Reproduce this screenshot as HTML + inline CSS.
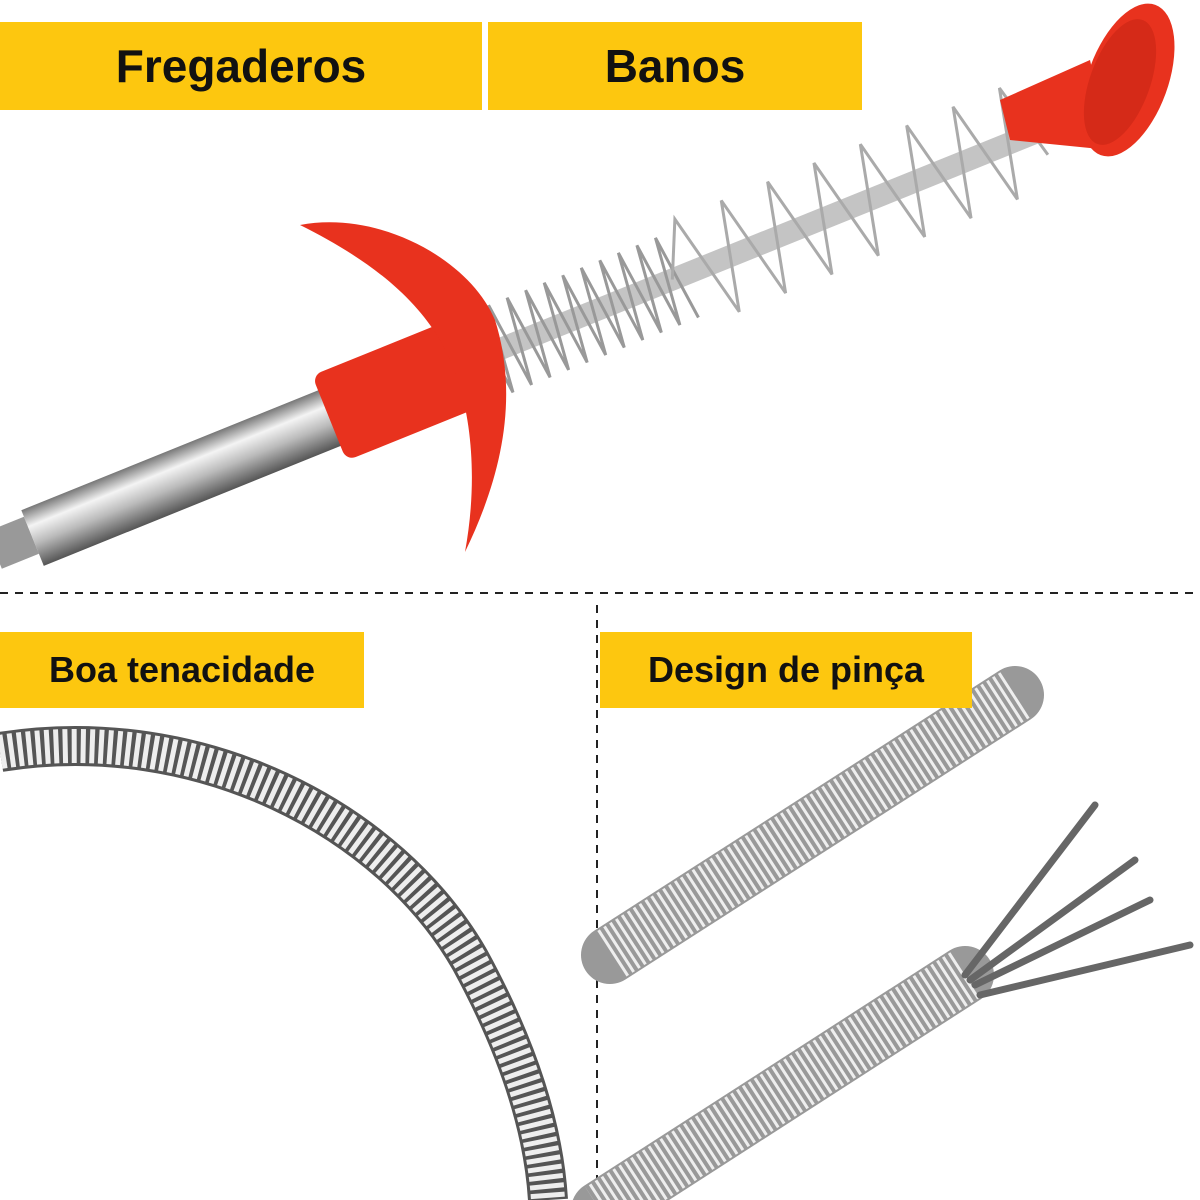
<!DOCTYPE html>
<html><head><meta charset="utf-8"><style>
html,body{margin:0;padding:0;background:#fff;}
.wrap{position:relative;width:1200px;height:1200px;overflow:hidden;background:#fff;font-family:"Liberation Sans",sans-serif;}
.lab{position:absolute;background:#FDC70F;color:#111;font-weight:bold;display:flex;align-items:center;justify-content:center;}
</style></head><body><div class="wrap">
<svg width="1200" height="1200" style="position:absolute;left:0;top:0">
<defs>
<linearGradient id="metal" x1="0" y1="0" x2="0" y2="1">
<stop offset="0" stop-color="#777"/><stop offset="0.3" stop-color="#f4f4f4"/><stop offset="0.6" stop-color="#bbb"/><stop offset="1" stop-color="#555"/></linearGradient>
</defs>
<line x1="0" y1="593" x2="1200" y2="593" stroke="#222" stroke-width="2" stroke-dasharray="8,7"/>
<line x1="597" y1="605" x2="597" y2="1200" stroke="#222" stroke-width="2" stroke-dasharray="8,7"/>
<g transform="rotate(-22 330 420)">
<rect x="-30" y="395" width="40" height="40" fill="#999"/>
<rect x="10" y="388" width="330" height="60" fill="url(#metal)"/>
<rect x="330" y="372" width="150" height="92" rx="10" fill="#E8321E"/>
<line x1="480" y1="418" x2="1180" y2="418" stroke="#c4c4c4" stroke-width="22"/>
<path d="M490,418 l10,-45 l10,90 l10,-90 l10,90 l10,-90 l10,90 l10,-90 l10,90 l10,-90 l10,90 l10,-90 l10,90 l10,-90 l10,90 l10,-90 l10,90 l10,-90 l10,90 l10,-90 l10,90 l10,-90 l10,90" fill="none" stroke="#999" stroke-width="3"/>
<path d="M700,418 l25,-55 l25,110 l25,-110 l25,110 l25,-110 l25,110 l25,-110 l25,110 l25,-110 l25,110 l25,-110 l25,110 l25,-110 l25,110 l25,-110 l20,80" fill="none" stroke="#aaa" stroke-width="3"/>
</g>
<path d="M300,225 C380,210 470,260 495,320 C520,400 500,480 465,552 C480,470 470,390 440,340 C410,290 360,255 300,225Z" fill="#E8321E"/>
<path d="M1000,100 L1090,60 L1110,150 L1010,140 Z" fill="#E8321E"/>
<ellipse cx="1128" cy="80" rx="40" ry="80" transform="rotate(20 1128 80)" fill="#E8321E"/>
<ellipse cx="1120" cy="82" rx="30" ry="66" transform="rotate(20 1120 82)" fill="#d52a18"/>
<path d="M0,752 C200,720 390,820 470,960 C530,1070 545,1150 548,1200" fill="none" stroke="#555" stroke-width="40"/>
<path d="M0,752 C200,720 390,820 470,960 C530,1070 545,1150 548,1200" fill="none" stroke="#eee" stroke-width="34" stroke-dasharray="5,4"/>
<line x1="1015" y1="695" x2="610" y2="955" stroke="#999" stroke-width="58" stroke-linecap="round"/>
<line x1="1015" y1="695" x2="610" y2="955" stroke="#eee" stroke-width="54" stroke-dasharray="3,4"/>
<line x1="965" y1="975" x2="600" y2="1210" stroke="#999" stroke-width="58" stroke-linecap="round"/>
<line x1="965" y1="975" x2="600" y2="1210" stroke="#eee" stroke-width="54" stroke-dasharray="3,4"/>
<g stroke="#666" stroke-width="7" fill="none" stroke-linecap="round">
<path d="M965,975 L1095,805"/>
<path d="M970,980 L1135,860"/>
<path d="M975,985 L1150,900"/>
<path d="M980,995 L1190,945"/>
</g>
</svg>
<div class="lab" style="left:0;top:22px;width:482px;height:88px;font-size:46px">Fregaderos</div>
<div class="lab" style="left:488px;top:22px;width:374px;height:88px;font-size:46px">Banos</div>
<div class="lab" style="left:0;top:632px;width:364px;height:76px;font-size:36px">Boa tenacidade</div>
<div class="lab" style="left:600px;top:632px;width:372px;height:76px;font-size:36px">Design de pinça</div>
</div></body></html>
